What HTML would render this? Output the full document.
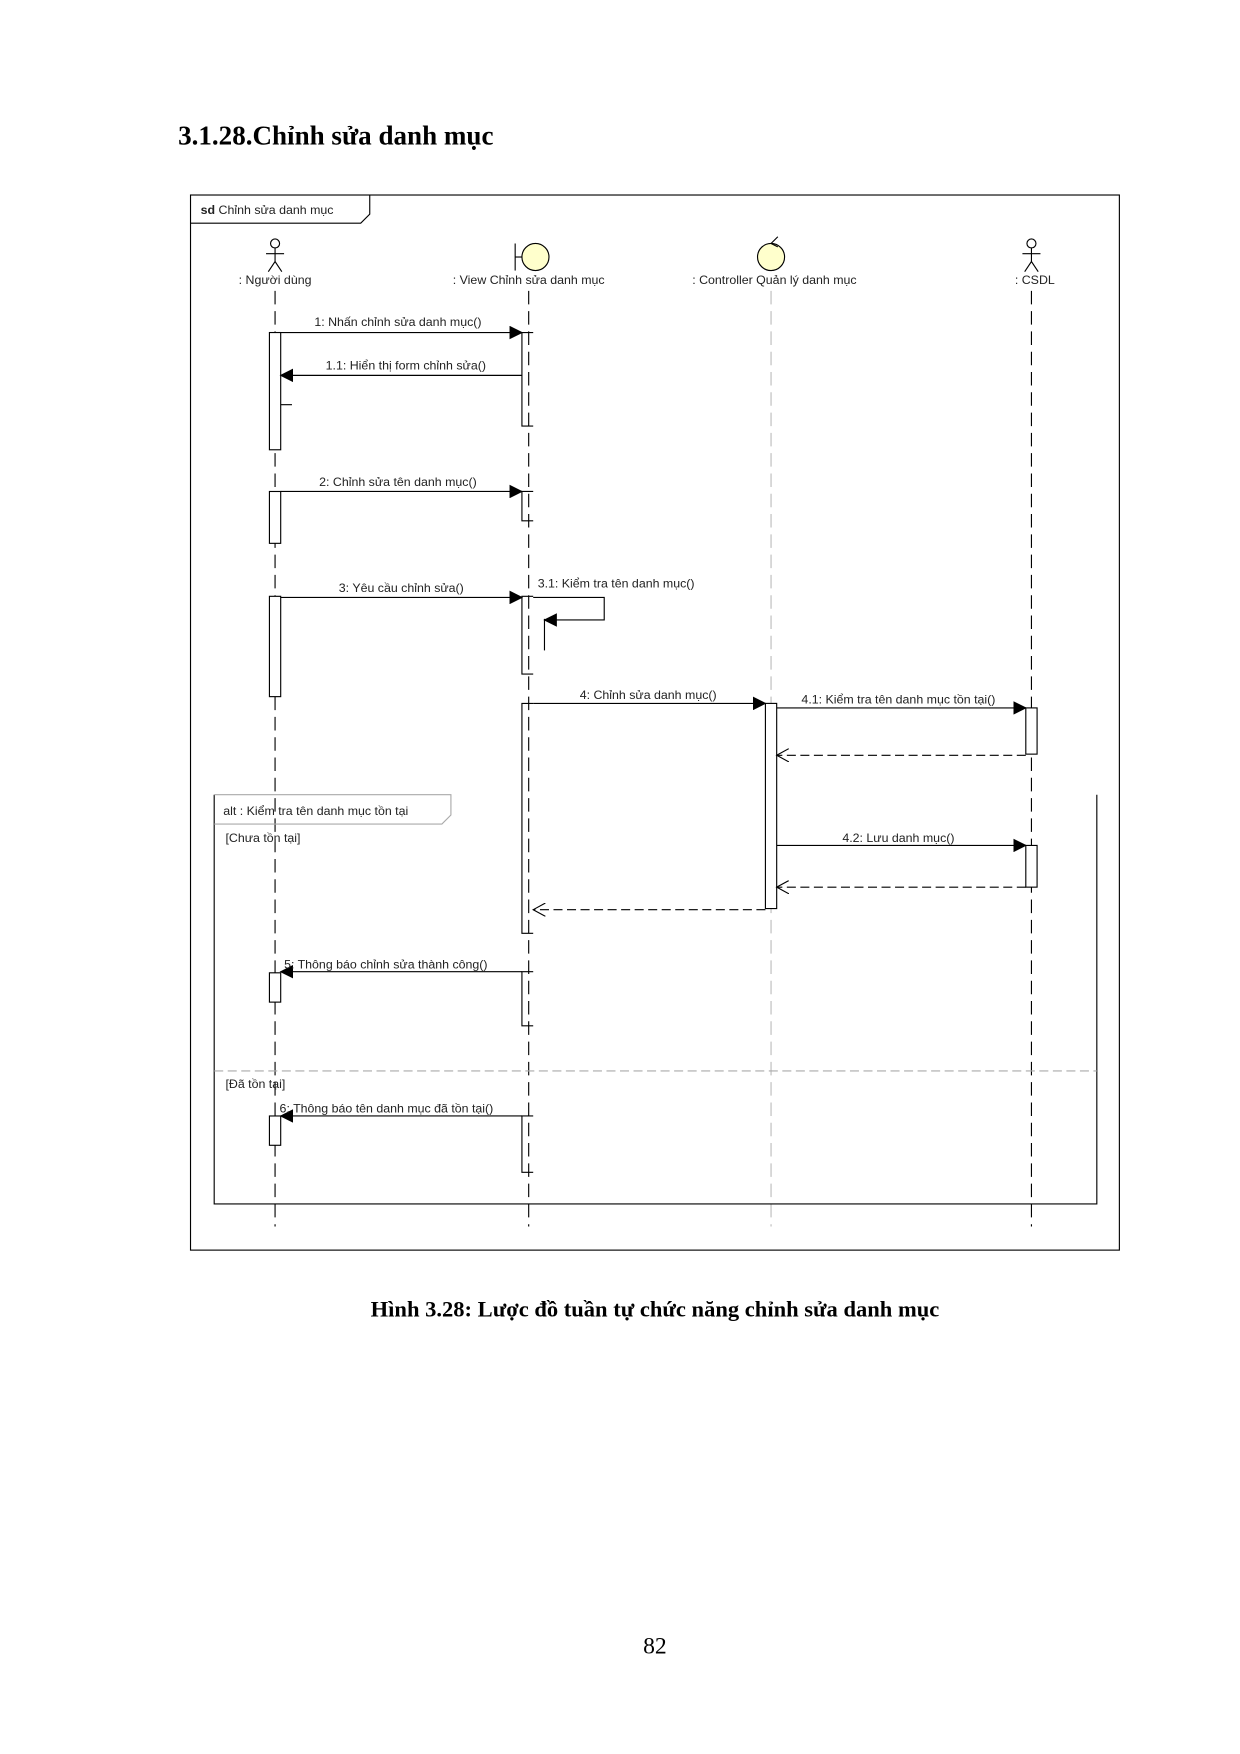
<!DOCTYPE html>
<html><head><meta charset="utf-8"><style>
html,body{margin:0;padding:0;background:#fff}
svg{display:block}
text{font-family:"Liberation Sans",sans-serif;font-size:11px;fill:#222}
.t{font-family:"Liberation Serif",serif;font-weight:bold;fill:#000}
</style></head><body>
<svg width="1240" height="1754" viewBox="0 0 1100 1556" xmlns="http://www.w3.org/2000/svg">
<defs>
<marker id="f" markerWidth="12" markerHeight="12" refX="11" refY="6" orient="auto" markerUnits="userSpaceOnUse"><path d="M0,0 L12,6 L0,12 z" fill="#000"/></marker>
<marker id="o" markerWidth="12" markerHeight="12" refX="11" refY="6" orient="auto" markerUnits="userSpaceOnUse"><path d="M0,0 L11,6 L0,12" fill="none" stroke="#000"/></marker>
</defs>
<text class="t" x="158" y="128" style="font-size:24px">3.1.28.Chỉnh sửa danh mục</text>
<rect x="169" y="173" width="824" height="936" fill="none" stroke="#000"/>
<path d="M169,198 H320 L328,190 V173" fill="none" stroke="#000"/>
<text x="178" y="190"><tspan font-weight="bold">sd</tspan> Chỉnh sửa danh mục</text>
<!-- lifelines -->
<g stroke="#000" stroke-dasharray="12,6">
<line x1="244" y1="258" x2="244" y2="1088"/>
<line x1="469" y1="258" x2="469" y2="1088"/>
<line x1="915" y1="258" x2="915" y2="1088"/>
</g>
<line x1="684" y1="258" x2="684" y2="1088" stroke="#bbb" stroke-dasharray="12,6"/>
<!-- actors -->
<g stroke="#000" fill="none">
<circle cx="244" cy="216" r="4"/><line x1="244" y1="220" x2="244" y2="232"/><line x1="236" y1="225" x2="252" y2="225"/><path d="M238,241 L244,232 L250,241"/>
<circle cx="915" cy="216" r="4"/><line x1="915" y1="220" x2="915" y2="232"/><line x1="907" y1="225" x2="923" y2="225"/><path d="M909,241 L915,232 L921,241"/>
<line x1="457" y1="216" x2="457" y2="240"/><line x1="457" y1="228" x2="463" y2="228"/>
</g>
<circle cx="475" cy="228" r="12" fill="#ffffcc" stroke="#000"/>
<circle cx="684" cy="228" r="12" fill="#ffffcc" stroke="#000"/>
<path d="M684,216 L690,210 M684,216 L690,219" stroke="#000" fill="none"/>
<text x="244" y="252" text-anchor="middle">: Người dùng</text>
<text x="469" y="252" text-anchor="middle">: View Chỉnh sửa danh mục</text>
<text x="687" y="252" text-anchor="middle">: Controller Quản lý danh mục</text>
<text x="918" y="252" text-anchor="middle">: CSDL</text>
<!-- alt fragment -->
<path d="M190,705 V1068 H973 V705" fill="none" stroke="#000"/>
<path d="M190,705 H400 V723 L392,731 H190" fill="none" stroke="#aaa"/>
<text x="198" y="723">alt : Kiểm tra tên danh mục tồn tại</text>
<text x="200" y="747">[Chưa tồn tại]</text>
<line x1="190" y1="950" x2="973" y2="950" stroke="#aaa" stroke-dasharray="8,4"/>
<text x="200" y="965">[Đã tồn tại]</text>
<!-- activations -->
<g fill="#fff" stroke="#000">
<rect x="239" y="295" width="10" height="104"/>
<rect x="239" y="436" width="10" height="46"/>
<rect x="239" y="529" width="10" height="89"/>
<rect x="239" y="863" width="10" height="26"/>
<rect x="239" y="990" width="10" height="26"/>
<rect x="679" y="624" width="10" height="182"/>
<rect x="910" y="628" width="10" height="41"/>
<rect x="910" y="750" width="10" height="37"/>
</g>
<g stroke="#000" fill="none">
<path d="M473,295 H463 V378 H473"/>
<path d="M473,436 H463 V462 H473"/>
<path d="M473,529 H463 V598 H473"/>
<path d="M473,624 H463 V828 H473"/>
<path d="M473,862 H463 V910 H473"/>
<path d="M473,990 H463 V1040 H473"/>
<path d="M483,549 V577"/>
<path d="M249,359 H259"/>
</g>
<!-- messages -->
<g stroke="#000" fill="none">
<line x1="249" y1="295" x2="463" y2="295" marker-end="url(#f)"/>
<line x1="463" y1="333" x2="249" y2="333" marker-end="url(#f)"/>
<line x1="249" y1="436" x2="463" y2="436" marker-end="url(#f)"/>
<line x1="249" y1="530" x2="463" y2="530" marker-end="url(#f)"/>
<path d="M473,530 H536 V550 H483" marker-end="url(#f)"/>
<line x1="473" y1="624" x2="679" y2="624" marker-end="url(#f)"/>
<line x1="689" y1="628" x2="910" y2="628" marker-end="url(#f)"/>
<line x1="910" y1="670" x2="689" y2="670" stroke-dasharray="8,4" marker-end="url(#o)"/>
<line x1="689" y1="750" x2="910" y2="750" marker-end="url(#f)"/>
<line x1="910" y1="787" x2="689" y2="787" stroke-dasharray="8,4" marker-end="url(#o)"/>
<line x1="679" y1="807" x2="473" y2="807" stroke-dasharray="8,4" marker-end="url(#o)"/>
<line x1="463" y1="862" x2="249" y2="862" marker-end="url(#f)"/>
<line x1="463" y1="990" x2="249" y2="990" marker-end="url(#f)"/>
</g>
<text x="353" y="289" text-anchor="middle">1: Nhấn chỉnh sửa danh mục()</text>
<text x="360" y="328" text-anchor="middle">1.1: Hiển thị form chỉnh sửa()</text>
<text x="353" y="431" text-anchor="middle">2: Chỉnh sửa tên danh mục()</text>
<text x="356" y="525" text-anchor="middle">3: Yêu cầu chỉnh sửa()</text>
<text x="477" y="521">3.1: Kiểm tra tên danh mục()</text>
<text x="575" y="620" text-anchor="middle">4: Chỉnh sửa danh mục()</text>
<text x="797" y="624" text-anchor="middle">4.1: Kiểm tra tên danh mục tồn tại()</text>
<text x="797" y="747" text-anchor="middle">4.2: Lưu danh mục()</text>
<text x="252" y="859">5: Thông báo chỉnh sửa thành công()</text>
<text x="248" y="987">6: Thông báo tên danh mục đã tồn tại()</text>
<text class="t" x="581" y="1168" text-anchor="middle" style="font-size:20px">Hình 3.28: Lược đồ tuần tự chức năng chỉnh sửa danh mục</text>
<text x="581" y="1467" text-anchor="middle" style="font-family:'Liberation Serif',serif;font-size:21px;fill:#000">82</text>
</svg>
</body></html>
